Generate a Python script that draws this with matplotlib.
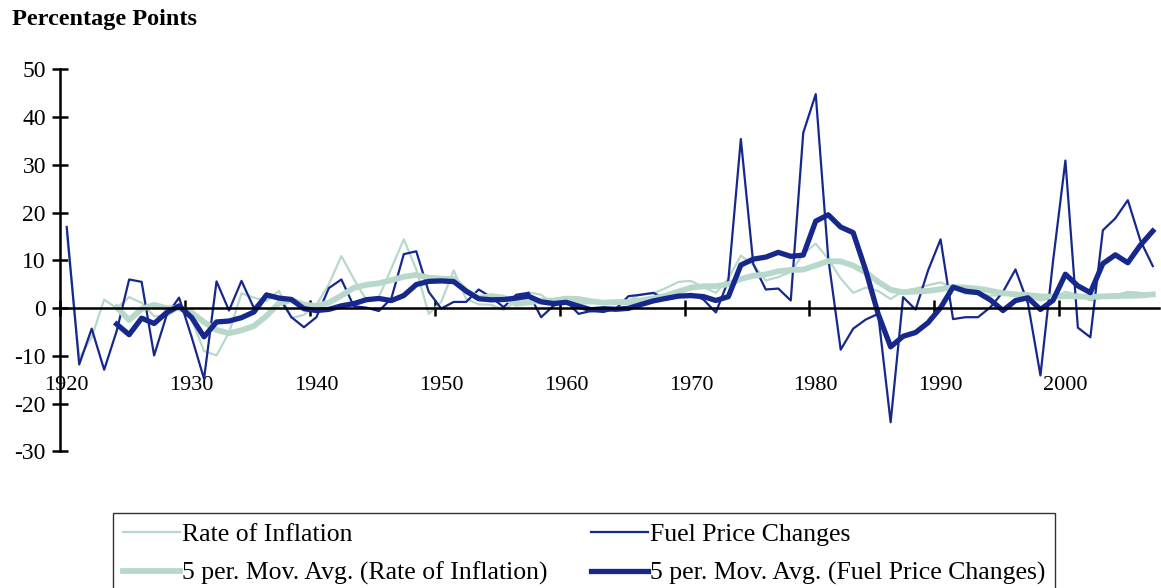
import numpy as np
import pandas as pd
import matplotlib
matplotlib.use("Agg")
import matplotlib.pyplot as plt

# annual values, 1920-2007 (percentage points)
years = np.arange(1920, 2008)

inflation = [15.6, -10.5, -6.1, 1.8, 0.0, 2.3, 1.1, -1.7, -1.7, 0.0,
             -2.3, -9.0, -9.9, -5.1, 3.1, 2.2, 1.5, 3.6, -2.1, -1.4,
             0.7, 5.0, 10.9, 6.1, 1.7, 2.3, 8.3, 14.4, 8.1, -1.2,
             1.3, 7.9, 1.9, 0.8, 0.7, -0.4, 1.5, 3.3, 2.8, 0.7,
             1.7, 1.0, 1.0, 1.3, 1.3, 1.6, 2.9, 3.1, 4.2, 5.5,
             5.7, 4.4, 3.2, 6.2, 11.0, 9.1, 5.8, 6.5, 7.6, 11.3,
             13.5, 10.3, 6.2, 3.2, 4.3, 3.6, 1.9, 3.6, 4.1, 4.8,
             5.4, 4.2, 3.0, 3.0, 2.6, 2.8, 3.0, 2.3, 1.6, 2.2,
             3.4, 2.8, 1.6, 2.3, 2.7, 3.4, 3.2, 2.8]

fuel = [17.0, -11.8, -4.3, -12.9, -4.8, 6.0, 5.5, -9.9, -1.5, 2.2,
        -6.0, -14.8, 5.6, -0.5, 5.7, 0.0, 3.0, 2.3, -1.9, -4.0,
        -1.9, 4.2, 6.0, 0.4, 0.1, -0.6, 2.0, 11.3, 11.9, 3.4,
        -0.1, 1.3, 1.3, 3.9, 2.3, 0.2, 2.8, 3.2, -1.9, 0.5,
        1.5, -1.2, -0.6, -0.8, -0.1, 2.5, 2.8, 3.2, 1.8, 2.3,
        3.0, 1.8, -0.9, 5.8, 35.4, 9.2, 3.9, 4.1, 1.6, 36.7,
        44.8, 10.5, -8.7, -4.3, -2.4, -1.2, -23.9, 2.3, -0.3, 7.9,
        14.4, -2.3, -1.9, -1.9, 0.2, 3.4, 8.1, 1.0, -14.1, 9.6,
        30.9, -4.1, -6.1, 16.3, 18.8, 22.6, 14.2, 8.8]

y_ticks = [-30, -20, -10, 0, 10, 20, 30, 40, 50]
x_labels = [1920, 1930, 1940, 1950, 1960, 1970, 1980, 1990, 2000]

light = "#b8d8cb"
dark = "#16288c"

plt.rcParams["font.family"] = ["Liberation Serif", "DejaVu Serif"]

# 5 period moving averages, as the trendlines in the original
inf_ma = pd.Series(inflation, index=years).rolling(5).mean()
fuel_ma = pd.Series(fuel, index=years).rolling(5).mean()

fig = plt.figure(figsize=(11.61, 5.88), dpi=100)
ax = fig.add_axes([0.0521, 0.2323, 0.9462, 0.6498])

h1, = ax.plot(years, inflation, color=light, lw=1.6, solid_joinstyle="round",
              label="Rate of Inflation")
h2, = ax.plot(years, fuel, color=dark, lw=1.6, solid_joinstyle="round",
              label="Fuel Price Changes")
h3, = ax.plot(years, inf_ma, color=light, lw=4.2, solid_joinstyle="round",
              label="5 per. Mov. Avg. (Rate of Inflation)")
h4, = ax.plot(years, fuel_ma, color=dark, lw=3.8, solid_joinstyle="round",
              label="5 per. Mov. Avg. (Fuel Price Changes)")

ax.set_xlim(1919.5, 2007.5)
ax.set_ylim(-30, 50)

for s in ["top", "right"]:
    ax.spines[s].set_visible(False)
ax.spines["bottom"].set_position(("data", 0))
ax.spines["bottom"].set_linewidth(1.8)
ax.spines["left"].set_linewidth(1.8)

ax.set_yticks(y_ticks)
ax.set_yticklabels([str(v) for v in y_ticks])
ax.tick_params(axis="y", direction="inout", length=11, width=1.8,
               labelsize=17, pad=5)

# ticks between categories, labels centred on the category
ax.set_xticks(np.arange(1919.5, 2001, 10))
ax.set_xticklabels([])
ax.tick_params(axis="x", which="major", direction="inout", length=11, width=1.8)
ax.set_xticks(x_labels, minor=True)
ax.set_xticklabels([str(v) for v in x_labels], minor=True)
ax.tick_params(axis="x", which="minor", length=0, labelsize=16, pad=49)

fig.text(0.0103, 1 - 19 / 588, "Percentage Points", fontsize=17.5,
         fontweight="bold", va="center", ha="left")

leg = ax.legend(handles=[h1, h3, h2, h4], ncol=2, loc="upper left",
                bbox_to_anchor=(113 / 1161, 1 - 513 / 588),
                bbox_transform=fig.transFigure, frameon=True, fancybox=False,
                edgecolor="black", fontsize=18.5, handlelength=2.2,
                handletextpad=0.08, columnspacing=1.7, borderpad=0.4,
                labelspacing=0.6, borderaxespad=0)
leg.get_frame().set_linewidth(1.0)

fig.savefig("out.png", dpi=100)
